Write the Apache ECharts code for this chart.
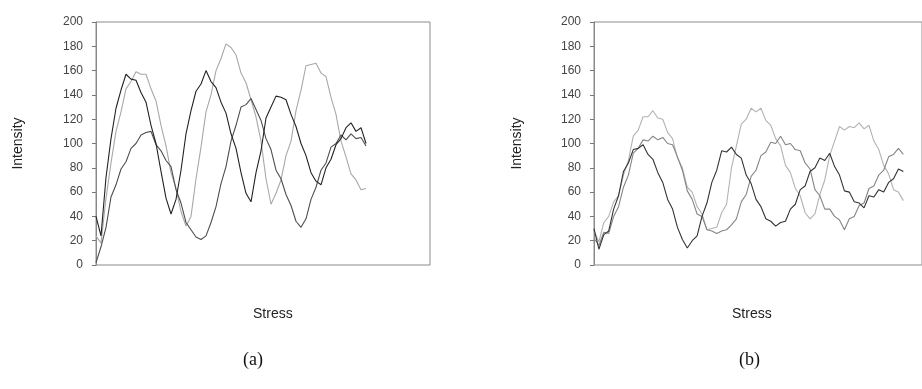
<!DOCTYPE html>
<html lang="en">

<head>
  <meta charset="UTF-8">
  <title>Intensity vs Stress</title>
  <script src="https://cdn.jsdelivr.net/npm/echarts/dist/echarts.min.js"></script>
  <style>
    body { margin: 0; background: #fff; }
    #main { width: 922px; height: 389px; }
  </style>
</head>

<body>
  <div id="main"></div>
</body>
<script>
  // y axis ticks (same for both panels)
  var yTicks = [0, 20, 40, 60, 80, 100, 120, 140, 160, 180, 200];

  // panel (a): one sample every step along the stress axis
  var aLight = [24, 18, 55, 84, 110, 126, 145, 151, 159, 157, 157, 145, 135, 115, 98, 76, 63, 44, 32, 40,
    71, 97, 126, 140, 160, 170, 182, 179, 173, 158, 150, 136, 122, 102, 71, 50, 59, 70, 90, 102,
    127, 144, 164, 165, 166, 158, 155, 138, 124, 102, 89, 75, 70, 62, 63];
  var aDark = [40, 24, 72, 104, 129, 144, 157, 153, 152, 142, 134, 115, 100, 77, 55, 42, 54, 78, 108, 127,
    143, 149, 160, 151, 146, 134, 125, 108, 96, 76, 59, 52, 76, 94, 121, 130, 139, 138, 136, 124,
    114, 100, 90, 76, 69, 66, 80, 87, 99, 104, 113, 117, 110, 113, 100];
  var aMid = [2, 15, 31, 56, 66, 79, 85, 96, 100, 107, 109, 110, 99, 94, 86, 81, 62, 51, 35, 29,
    23, 21, 24, 35, 48, 67, 81, 102, 115, 130, 132, 137, 128, 119, 104, 95, 78, 71, 58, 49,
    36, 31, 38, 54, 64, 78, 84, 97, 100, 107, 103, 108, 104, 105, 98];

  // panel (b)
  var bDark = [30, 13, 25, 28, 46, 57, 77, 84, 95, 96, 99, 91, 87, 76, 68, 54, 46, 31, 21, 14,
    20, 24, 40, 51, 68, 78, 94, 93, 97, 91, 88, 74, 67, 54, 48, 38, 36, 32, 35, 36,
    46, 50, 62, 65, 77, 80, 88, 86, 92, 81, 74, 61, 60, 52, 51, 47, 57, 56, 62, 60,
    68, 71, 79, 77];
  var bMid = [22, 16, 27, 26, 40, 48, 64, 74, 92, 96, 103, 102, 106, 103, 105, 100, 99, 89, 78, 61,
    54, 42, 40, 29, 28, 26, 28, 29, 33, 38, 52, 58, 73, 78, 90, 93, 101, 100, 106, 99,
    100, 95, 94, 84, 79, 62, 57, 46, 46, 40, 37, 29, 38, 40, 49, 51, 63, 65, 74, 78,
    89, 91, 96, 91];
  var bLight = [28, 19, 35, 40, 52, 57, 74, 86, 106, 111, 122, 122, 127, 121, 120, 109, 104, 88, 80, 64,
    60, 48, 42, 29, 30, 31, 43, 50, 80, 98, 116, 120, 129, 126, 129, 119, 115, 104, 98, 82,
    76, 63, 57, 43, 38, 42, 58, 70, 90, 102, 114, 111, 114, 113, 117, 112, 115, 102, 95, 82,
    75, 62, 60, 53];

  var xMax = 66.8; // plot width in sample steps

  function toPairs(arr) {
    return arr.map(function (v, i) {
      return [i, v];
    });
  }

  function line(idx, data, color) {
    return {
      type: 'line',
      xAxisIndex: idx,
      yAxisIndex: idx,
      data: toPairs(data),
      showSymbol: false,
      silent: true,
      lineStyle: { color: color, width: 1.1 },
      animation: false
    };
  }

  function yAxisFor(idx, gap) {
    return {
      type: 'value',
      gridIndex: idx,
      min: yTicks[0],
      max: yTicks[yTicks.length - 1],
      interval: yTicks[1] - yTicks[0],
      name: 'Intensity',
      nameLocation: 'middle',
      nameGap: gap,
      nameTextStyle: { fontFamily: 'Liberation Sans', fontSize: 14, color: '#222' },
      axisLine: { show: true, lineStyle: { color: '#888', width: 1 } },
      axisTick: { show: true, length: 4, lineStyle: { color: '#777' } },
      axisLabel: { fontFamily: 'Liberation Sans', fontSize: 12, color: '#444', margin: 13 },
      splitLine: { show: false }
    };
  }

  var myChart = echarts.init(document.getElementById('main'));
  var option = {
    backgroundColor: '#fff',
    grid: [
      { left: 96, top: 22, width: 334, height: 243, show: true, borderColor: '#8c8c8c', borderWidth: 1 },
      { left: 594, top: 22, width: 334, height: 243, show: true, borderColor: '#8c8c8c', borderWidth: 1 }
    ],
    xAxis: [
      { type: 'value', gridIndex: 0, min: 0, max: xMax, show: false },
      { type: 'value', gridIndex: 1, min: 0, max: xMax, show: false }
    ],
    yAxis: [yAxisFor(0, 71), yAxisFor(1, 70)],
    series: [
      line(0, aLight, '#a8a8a8'),
      line(0, aMid, '#4e4e4e'),
      line(0, aDark, '#222'),
      line(1, bLight, '#b2b2b2'),
      line(1, bMid, '#858585'),
      line(1, bDark, '#333')
    ],
    graphic: [
      { type: 'text', left: 253, top: 307, style: { text: 'Stress', font: '14px "Liberation Sans"', fill: '#222' } },
      { type: 'text', left: 732, top: 307, style: { text: 'Stress', font: '14px "Liberation Sans"', fill: '#222' } },
      { type: 'text', left: 243, top: 351, style: { text: '(a)', font: '18px "Liberation Serif"', fill: '#111' } },
      { type: 'text', left: 739, top: 351, style: { text: '(b)', font: '18px "Liberation Serif"', fill: '#111' } }
    ]
  };
  myChart.setOption(option);
</script>

</html>
